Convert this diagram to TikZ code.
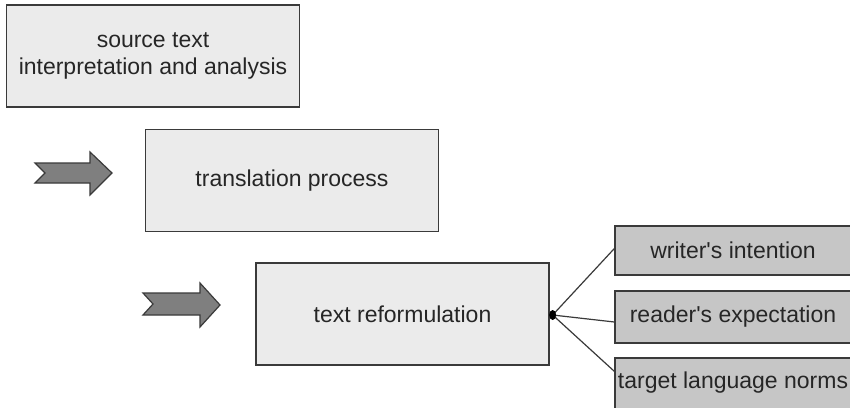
\documentclass[tikz,border=0pt]{standalone}
\usepackage{fontspec}
\setmainfont{Liberation Sans}
\usetikzlibrary{calc}
\definecolor{boxfill}{HTML}{EBEBEB}
\definecolor{sidefill}{HTML}{C6C6C6}
\definecolor{arrfill}{HTML}{7F7F7F}
\definecolor{edge}{HTML}{3A3A3A}
\definecolor{txt}{HTML}{262626}
\tikzset{
  mainbox/.style={draw=edge, line width=1.3pt, fill=boxfill, text=txt, align=center,
    inner sep=0pt, minimum width=293pt, minimum height=102pt,
    font=\fontsize{23}{27}\selectfont},
  sidebox/.style={draw=edge, line width=1.3pt, fill=sidefill, text=txt, align=center,
    inner sep=0pt, minimum width=236pt, minimum height=50pt,
    font=\fontsize{23}{27}\selectfont},
  bigarrow/.style={draw=edge, line width=1.2pt, fill=arrfill, line join=miter},
  link/.style={draw=edge, line width=1.2pt}
}
\begin{document}
\begin{tikzpicture}[x=1pt,y=-1pt]
\useasboundingbox (0,0) rectangle (850,407);
\clip (0,0) rectangle (850,407);
\fill[white] (0,0) rectangle (850,407);
\node[mainbox] (src) at (153,56) {source text\\interpretation and analysis};
\node[mainbox] (proc) at (292,180.5) {translation process};
\node[mainbox] (reform) at (402.5,314) {text reformulation};
\node[sidebox, minimum height=49pt] (writer) at (733,250.5) {writer\textquotesingle s intention};
\node[sidebox, minimum height=52pt] (reader) at (733,317) {reader\textquotesingle s expectation};
\node[sidebox, minimum height=52pt] (norms) at (733,384) {\raisebox{7pt}{target language norms}};
% arrows
\draw[bigarrow] (35,163) -- (90,163) -- (90,152) -- (112,173) -- (90,195) -- (90,183) -- (35,183) -- (45,173) -- cycle;
\draw[bigarrow] (143,293) -- (200,293) -- (200,283) -- (220,305) -- (200,327) -- (200,315) -- (143,315) -- (153,304) -- cycle;
% connectors
\coordinate (hub) at ($(reform.east)+(3,1)$);
\draw[link] (hub) -- ($(writer.west)+(0,-2)$);
\draw[link] (hub) -- ($(reader.west)+(0,5)$);
\draw[link] (hub) -- ($(norms.north west)+(0,14)$);
\fill[black] (hub) ellipse (3.5pt and 5pt);
\end{tikzpicture}
\end{document}
